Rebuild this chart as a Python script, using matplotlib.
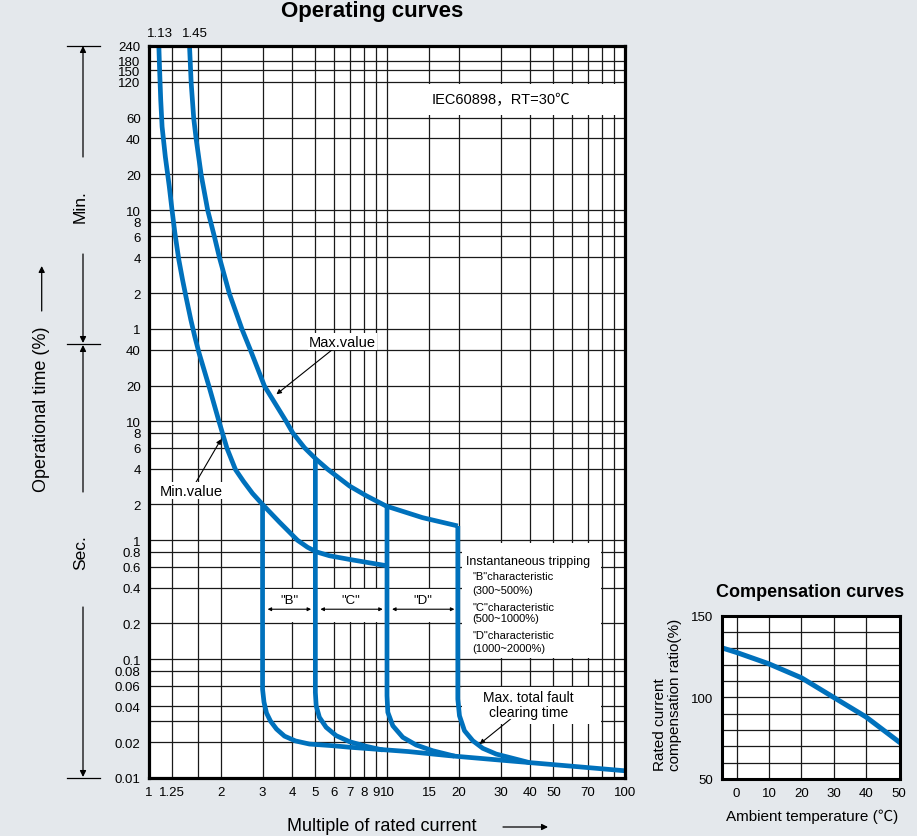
import numpy as np
import matplotlib.pyplot as plt
from matplotlib.patches import Rectangle
from matplotlib.lines import Line2D

plt.rcParams['font.family'] = ['Liberation Sans', 'Noto Sans CJK SC', 'DejaVu Sans']

BLUE = '#0071BC'
BG = '#E4E8EC'
GRID = '#1a1a1a'
W, H = 917, 837

# ---- values (multiple of In, seconds) ----
min_x = [1.10, 1.107, 1.12, 1.135, 1.171, 1.217, 1.249, 1.284, 1.334, 1.383, 1.43,
         1.498, 1.557, 1.622, 1.787, 1.968, 2.127, 2.309, 2.495, 2.722, 3.0, 3.534, 4.208,
         4.634, 5.04, 5.73, 6.96, 10.0]
min_t = [14400, 9620, 5080, 3013, 1687, 944, 605, 387, 230, 156, 112,
         72, 51.8, 37.8, 19.7, 10.0, 5.93, 3.93, 3.13, 2.48, 2.0, 1.42, 1.0,
         0.874, 0.80, 0.741, 0.69, 0.61]
max_x = [1.48, 1.504, 1.542, 1.579, 1.657, 1.766, 1.884, 1.978, 2.179, 2.464, 2.662,
         3.057, 3.771, 4.02, 4.50, 5.04, 5.64, 6.96, 8.18, 9.92, 14.1, 19.84]
max_t = [14400, 7020, 3516, 2357, 1183, 593, 357, 238, 118, 59, 40.3,
         19.8, 10.0, 8.0, 6.01, 4.8, 3.95, 2.86, 2.37, 1.94, 1.55, 1.32]
curve_labels = ['1.13', '1.45']

# instantaneous trip lines ending in the max. total fault clearing time line
b_x = [3.0, 3.0, 3.042, 3.117, 3.24, 3.434, 3.71, 4.126, 4.725, 5.9, 6.96, 12.3, 18.3, 29.6, 48.2, 100]
b_t = [2.0, 0.056, 0.0435, 0.0352, 0.0301, 0.0258, 0.0225, 0.0205, 0.0193, 0.0187, 0.01815,
       0.01669, 0.0154, 0.01417, 0.01304, 0.0115]
c_x = [5.0, 5.0, 5.04, 5.2, 5.55, 6.12, 6.96, 8.18, 9.6]
c_t = [4.8, 0.0525, 0.0405, 0.0324, 0.0267, 0.0227, 0.0202, 0.01847, 0.0172]
d_x = [10.0, 10.0, 10.08, 10.58, 11.65, 13.27, 15.57, 19.2]
d_t = [1.94, 0.0492, 0.0357, 0.0275, 0.022, 0.01894, 0.01696, 0.01528]
e_x = [19.84, 19.84, 20.16, 21.16, 22.94, 25.27, 28.76, 33.78, 39.7]
e_t = [1.32, 0.0461, 0.0334, 0.025, 0.02058, 0.01777, 0.0159, 0.01464, 0.01347]

# axis ticks
x_ticks = [1, 1.25, 2, 3, 4, 5, 6, 7, 8, 9, 10, 15, 20, 30, 40, 50, 70, 100]
x_grid = [1.25, 1.6, 2, 3, 4, 5, 6, 7, 8, 9, 10, 15, 20, 30, 40, 50, 60, 70, 80, 90]
min_ticks = [240, 180, 150, 120, 60, 40, 20, 10, 8, 6, 4, 2, 1]
sec_ticks = [40, 20, 10, 8, 6, 4, 2, 1, 0.8, 0.6, 0.4, 0.2, 0.1, 0.08, 0.06, 0.04, 0.02, 0.01]
extra_hgrid = [0.03]

# compensation curve
comp_temp = [-4, 0, 10, 20, 30, 40, 50]
comp_ratio = [130, 127.5, 120.5, 112, 100, 88, 73]


def F(x, y):
    return (x / W, 1 - y / H)


fig = plt.figure(figsize=(W / 100, H / 100), dpi=100, facecolor=BG)

# ================= operating curves =================
ax = fig.add_axes([149 / W, 1 - 779 / H, 476 / W, 732 / H])
ax.set_facecolor('white')
ax.set_xscale('log')
ax.set_yscale('log')
ax.set_xlim(1, 100)
ax.set_ylim(0.01, 14400)

y_ticks = [m * 60 for m in min_ticks] + sec_ticks
y_labels = [str(m) for m in min_ticks] + ['%g' % s for s in sec_ticks]
for v in x_grid:
    ax.axvline(v, color=GRID, lw=0.9, zorder=1)
for v in y_ticks + extra_hgrid:
    ax.axhline(v, color=GRID, lw=0.9, zorder=1)

ax.set_xticks(x_ticks)
ax.set_xticklabels(['%g' % v for v in x_ticks])
ax.set_yticks(y_ticks)
ax.set_yticklabels(y_labels)
ax.minorticks_off()
ax.tick_params(axis='both', length=0, labelsize=9.5)
ax.tick_params(axis='x', pad=6)
ax.tick_params(axis='y', pad=6)
for s in ax.spines.values():
    s.set_linewidth(2.3)
    s.set_zorder(6)

# white boxes behind the notes
ax.add_patch(Rectangle((10.3, 3750), 97 - 10.3, 6950 - 3750, fc='white', ec='none', zorder=2))
ax.add_patch(Rectangle((20.7, 0.103), 79 - 20.7, 0.95 - 0.103, fc='white', ec='none', zorder=2))
ax.add_patch(Rectangle((20.7, 0.0285), 79 - 20.7, 0.058 - 0.0285, fc='white', ec='none', zorder=2))
ax.add_patch(Rectangle((3.0, 0.207), 20 - 3.0, 0.39 - 0.207, fc='white', ec='none', zorder=2))

lw = 3.4
for xs, ts in [(min_x, min_t), (max_x, max_t), (b_x, b_t), (c_x, c_t), (d_x, d_t), (e_x, e_t)]:
    ax.plot(xs, ts, color=BLUE, lw=lw, zorder=3, solid_joinstyle='round', solid_capstyle='butt')

# labels on top of the frame
for v, lab, dx in [(min_x[0], curve_labels[0], 1), (max_x[0], curve_labels[1], 4)]:
    ax.annotate(lab, xy=(v, 1.0), xycoords=ax.get_xaxis_transform(), xytext=(dx, 5),
                textcoords='offset points', ha='center', va='bottom', fontsize=9.5)

ax.text(30, np.sqrt(3750 * 6950), 'IEC60898，RT=30℃', ha='center', va='center',
        fontsize=10.5, zorder=4)

arr = dict(arrowstyle='-|>', color='k', lw=0.8, mutation_scale=7, shrinkA=0, shrinkB=0)
box = dict(fc='white', ec='none', pad=1)
ax.annotate('Max.value', xy=(3.43, 16.9), xytext=(6.5, 47), ha='center', va='center',
            fontsize=10.5, bbox=box, arrowprops=arr, zorder=4)
ax.annotate('Min.value', xy=(2.01, 7.1), xytext=(1.5, 2.6), ha='center', va='center',
            fontsize=10.5, bbox=box, arrowprops=arr, zorder=4)
ax.annotate('Max. total fault\nclearing time', xy=(24.5, 0.0193), xytext=(39.3, 0.0415),
            ha='center', va='center', fontsize=10, linespacing=1.05,
            bbox=dict(fc='white', ec='none', pad=0), arrowprops=arr, zorder=4)

# B / C / D ranges
dbl = dict(arrowstyle='<|-|>', color='k', lw=0.8, mutation_scale=5, shrinkA=0, shrinkB=0)
for lo, hi, name in [(3, 5, 'B'), (5, 10, 'C'), (10, 20, 'D')]:
    ax.annotate('', xy=(lo * 1.05, 0.263), xytext=(hi * 0.96, 0.263), arrowprops=dbl, zorder=4)
    ax.text(np.sqrt(lo * hi), 0.315, '"%s"' % name, ha='center', va='center',
            fontsize=9.5, zorder=4)

ax.text(21.5, 0.67, 'Instantaneous tripping', ha='left', va='center', fontsize=9, zorder=4)
notes = [('"B"characteristic', 0.50), ('(300~500%)', 0.38),
         ('"C"characteristic', 0.277), ('(500~1000%)', 0.22),
         ('"D"characteristic', 0.159), ('(1000~2000%)', 0.125)]
for txt, t in notes:
    ax.text(22.9, t, txt, ha='left', va='center', fontsize=8, zorder=4)

# title and axis labels
fig.text(*F(372, 17), 'Operating curves', ha='center', va='baseline',
         fontsize=16, fontweight='bold')
fig.text(*F(42, 409), 'Operational time (%)', rotation=90, ha='center', va='center',
         fontsize=13)
fig.text(*F(381.7, 827), 'Multiple of rated current', ha='center', va='center', fontsize=13)

farr = dict(arrowstyle='-|>', color='k', lw=0.9, mutation_scale=9, shrinkA=0, shrinkB=0)
ax.annotate('', xy=F(41.7, 267), xytext=F(41.7, 312), xycoords='figure fraction',
            arrowprops=farr, annotation_clip=False)
ax.annotate('', xy=F(548, 828), xytext=F(503, 828), xycoords='figure fraction',
            arrowprops=farr, annotation_clip=False)

# Min. / Sec. dimension marks
for y in (47, 345, 779):
    fig.add_artist(Line2D([67 / W, 100 / W], [1 - y / H] * 2, color='k', lw=0.9))
for y0, y1 in [(158, 47), (255, 344), (493, 346), (608, 778)]:
    ax.annotate('', xy=F(83, y1), xytext=F(83, y0), xycoords='figure fraction',
                arrowprops=farr, annotation_clip=False)
fig.text(*F(80.5, 207), 'Min.', rotation=90, ha='center', va='center', fontsize=12.5)
fig.text(*F(80.5, 553), 'Sec.', rotation=90, ha='center', va='center', fontsize=12.5)

# ================= compensation curves =================
ax2 = fig.add_axes([721.7 / W, 1 - 780 / H, 178.3 / W, 163.3 / H])
ax2.set_facecolor('white')
ax2.set_xlim(-4.6, 50.5)
ax2.set_ylim(50, 150)
for v in range(0, 50, 10):
    ax2.axvline(v, color=GRID, lw=0.9, zorder=1)
for v in range(60, 150, 10):
    ax2.axhline(v, color=GRID, lw=0.9, zorder=1)
ax2.plot(comp_temp, comp_ratio, color=BLUE, lw=3.6, zorder=3)
ax2.set_xticks(range(0, 51, 10))
ax2.set_yticks([50, 100, 150])
ax2.tick_params(axis='both', length=0, labelsize=9.5)
ax2.tick_params(axis='x', pad=6)
ax2.tick_params(axis='y', pad=6)
for s in ax2.spines.values():
    s.set_linewidth(2.2)
    s.set_zorder(6)

fig.text(*F(810, 597), 'Compensation curves', ha='center', va='baseline',
         fontsize=13, fontweight='bold')
fig.text(*F(667.5, 695), 'Rated current\ncompensation ratio(%)', rotation=90,
         ha='center', va='center', multialignment='left', fontsize=11, linespacing=1.0)
fig.text(*F(811.7, 817), 'Ambient temperature (℃)', ha='center', va='center', fontsize=11)

fig.savefig('out.png', dpi=100, facecolor=BG)
